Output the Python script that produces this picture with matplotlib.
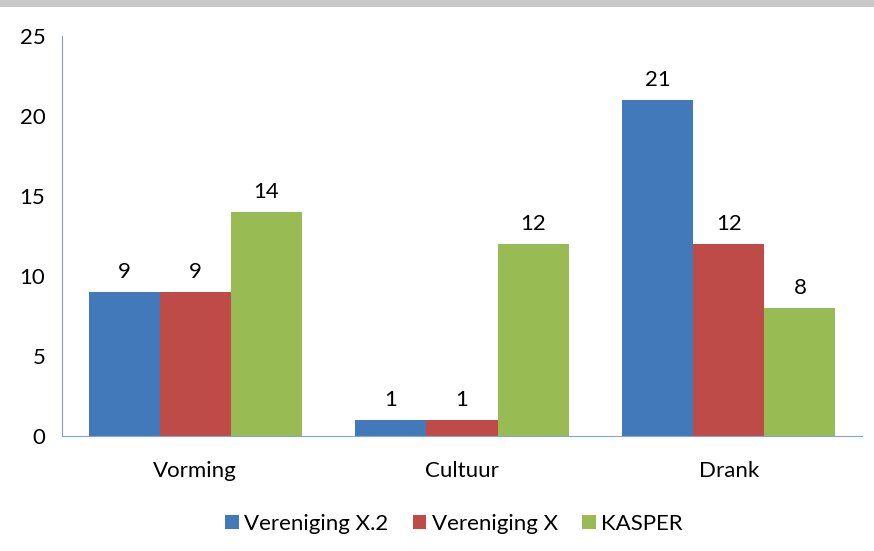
import matplotlib.pyplot as plt
from matplotlib.patches import Rectangle
import numpy as np

categories = ["Vorming", "Cultuur", "Drank"]
series_names = ["Vereniging X.2", "Vereniging X", "KASPER"]
vereniging_x2 = [9, 1, 21]
vereniging_x = [9, 1, 12]
kasper = [14, 12, 8]
colors = ["#4179BA", "#BE4B48", "#98BB53"]

plt.rcParams['font.family'] = ['Lato', 'DejaVu Sans']

fig = plt.figure(figsize=(8.74, 5.51), dpi=100)
ax = fig.add_axes([0.0709, 0.2087, 0.9154, 0.726])

# grey bar along the top edge, like the screenshot
fig.patches.append(Rectangle((0, 0.987), 1, 0.013, transform=fig.transFigure,
                             facecolor="#c8c8c8", edgecolor="none"))

x = np.arange(len(categories))
w = 0.267
for i, (vals, name) in enumerate(zip([vereniging_x2, vereniging_x, kasper], series_names)):
    bars = ax.bar(x + (i - 1) * w, vals, w, color=colors[i], label=name)
    ax.bar_label(bars, padding=7, fontsize=16)

ax.set_xlim(-0.5, 2.5)
ax.set_ylim(0, 25)
ax.set_yticks([0, 5, 10, 15, 20, 25])
ax.set_xticks(x)
ax.set_xticklabels(categories)
ax.tick_params(axis='y', length=0, pad=12, labelsize=16)
ax.tick_params(axis='x', length=0, pad=18, labelsize=16)
for s in ["top", "right"]:
    ax.spines[s].set_visible(False)
ax.spines["left"].set_color("#8a9aa8")
ax.spines["bottom"].set_color("#7fa6d4")

ax.legend(loc="center", bbox_to_anchor=(0.49, -0.22), ncol=3, frameon=False,
          fontsize=16, handlelength=0.6, handleheight=0.6, handletextpad=0.25,
          columnspacing=1.1)

plt.savefig("out.png", dpi=100)
